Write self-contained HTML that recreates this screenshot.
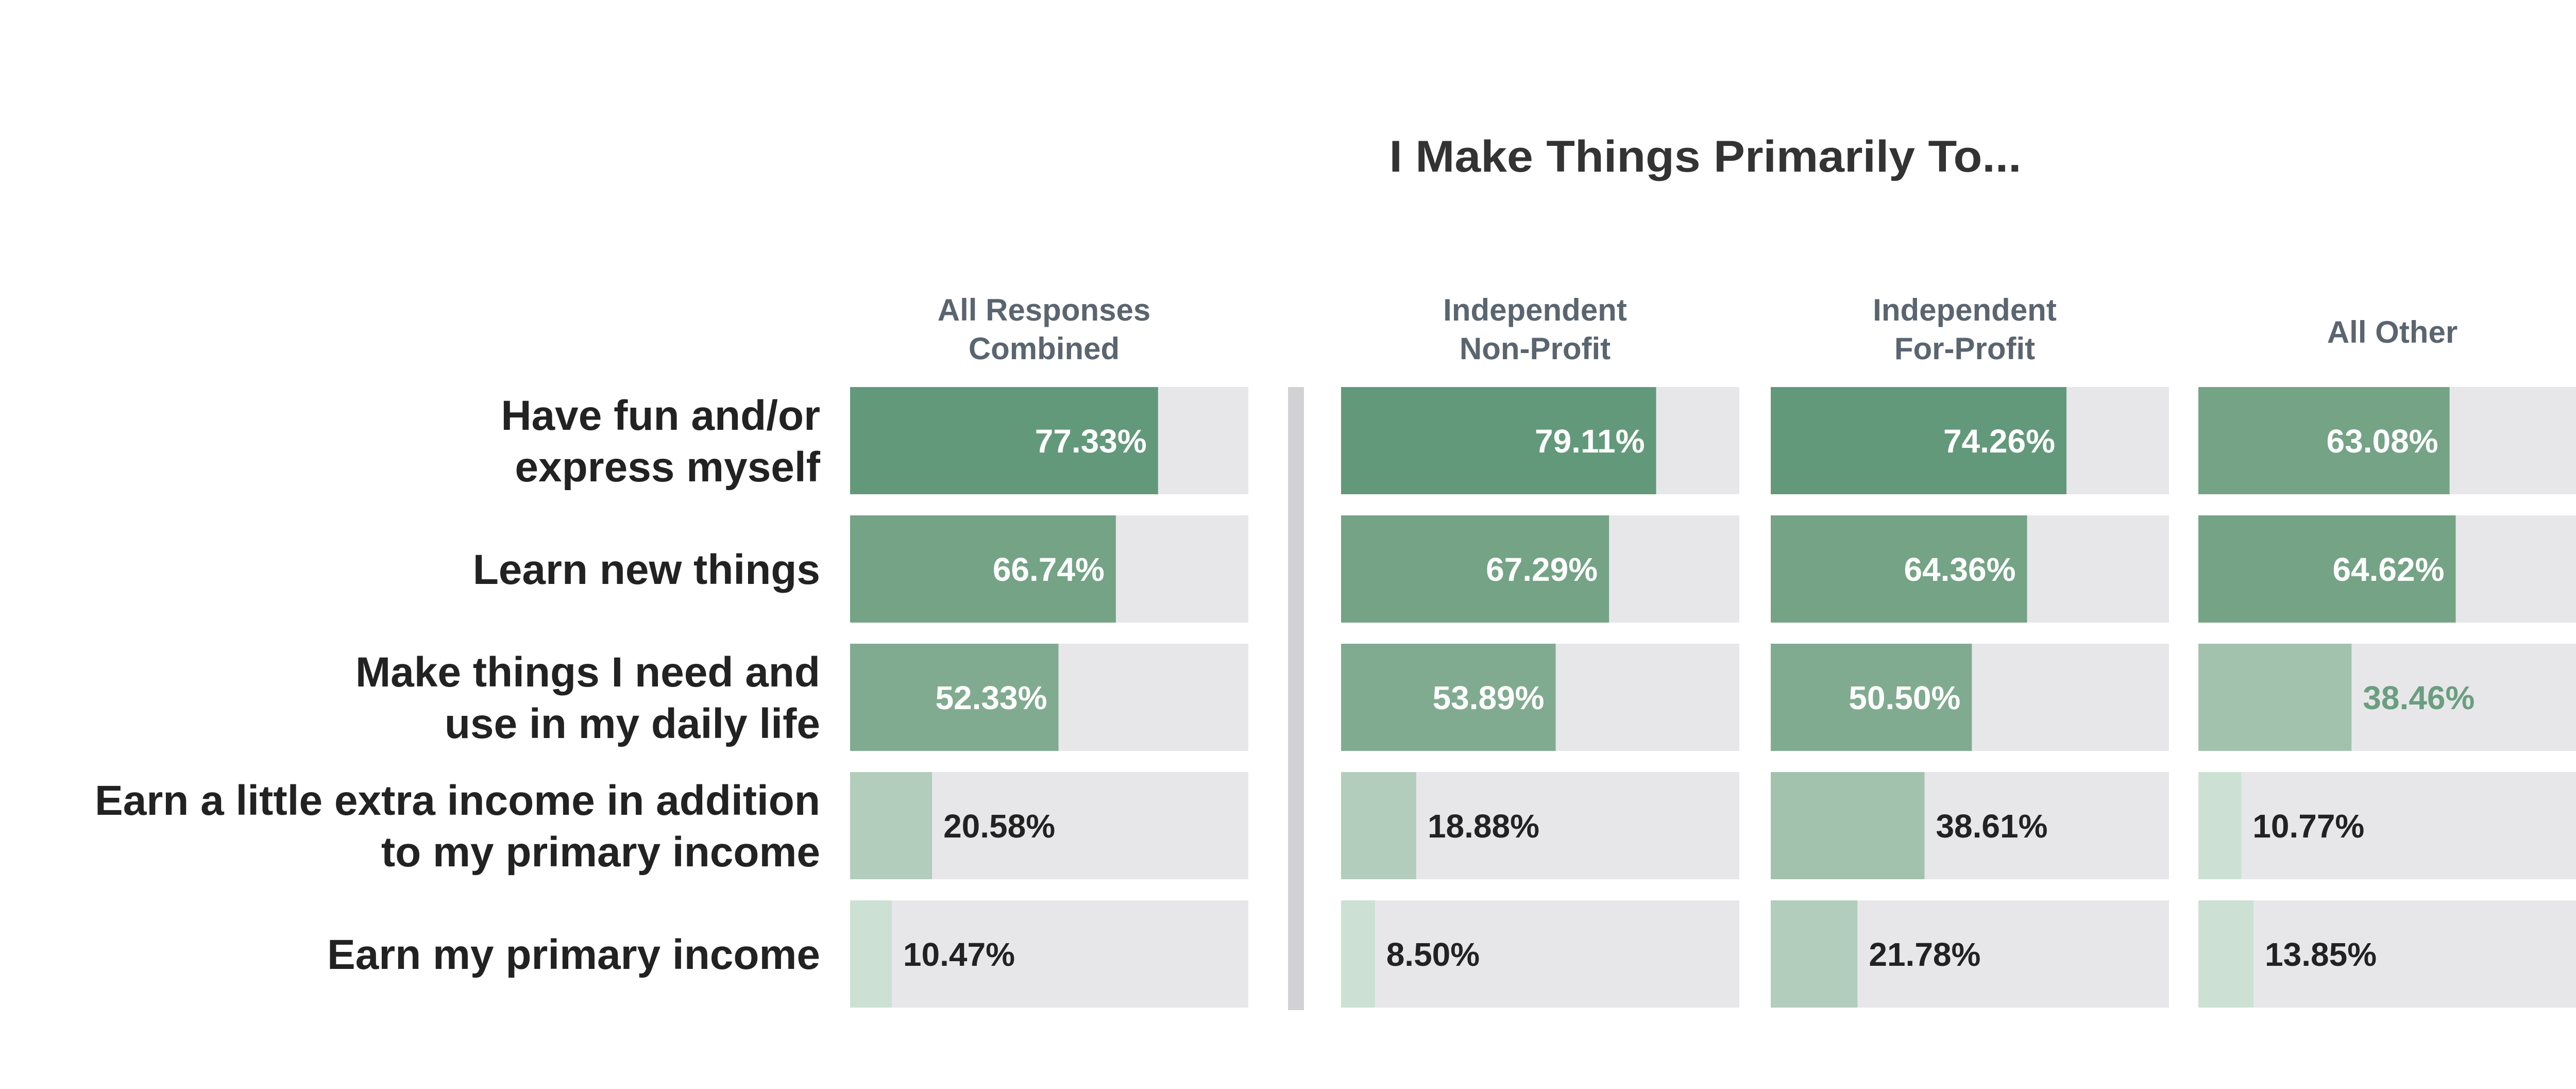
<!DOCTYPE html>
<html><head><meta charset="utf-8"><style>
html,body{margin:0;padding:0;background:#fff;}
svg{display:block;font-family:"Liberation Sans",sans-serif;}
</style></head><body>
<svg id="chart" width="5315" height="2113" viewBox="0 0 5315 2113" xmlns="http://www.w3.org/2000/svg">
<text x="3310" y="333" text-anchor="middle" font-size="86" font-weight="bold" fill="#333" textLength="1227" lengthAdjust="spacingAndGlyphs">I Make Things Primarily To...</text>
<rect x="2500" y="751" width="31" height="1209" fill="#d2d2d4"/>
<g id="g"></g>
</svg>
<script>
const categories = ["Have fun and/or express myself","Learn new things","Make things I need and use in my daily life","Earn a little extra income in addition to my primary income","Earn my primary income"];
const groups = ["All Responses Combined","Independent Non-Profit","Independent For-Profit","All Other"];
const allResponses = [77.33, 66.74, 52.33, 20.58, 10.47];
const nonProfit = [79.11, 67.29, 53.89, 18.88, 8.50];
const forProfit = [74.26, 64.36, 50.50, 38.61, 21.78];
const allOther = [63.08, 64.62, 38.46, 10.77, 13.85];
const series = [allResponses, nonProfit, forProfit, allOther];

const NS = "http://www.w3.org/2000/svg";
const g = document.getElementById('g');
const colX = [1650, 2603, 3437, 4267];
const trackW = 773, rowTop = 751, rowPitch = 249, barH = 208;
const xScale = v => v / 100 * trackW;
const yRow = i => rowTop + i * rowPitch;
function color(v){
  if (v >= 70) return "#62997a";
  if (v >= 60) return "#74a386";
  if (v >= 45) return "#80ab90";
  if (v >= 30) return "#a3c2ae";
  if (v >= 15) return "#b2cdbc";
  return "#cde0d4";
}
function mk(tag, attrs, txt){
  const e = document.createElementNS(NS, tag);
  for (const k in attrs) e.setAttribute(k, attrs[k]);
  if (txt !== undefined) e.textContent = txt;
  g.appendChild(e);
  return e;
}
const labelLines = [["Have fun and/or","express myself"],["Learn new things"],["Make things I need and","use in my daily life"],["Earn a little extra income in addition","to my primary income"],["Earn my primary income"]];
labelLines.forEach((lines, i) => {
  const cy = yRow(i) + barH / 2;
  lines.forEach((l, j) => {
    const y = cy + 29 + (j - (lines.length - 1) / 2) * 100;
    const t = mk('text', {x: 1592, y: y, 'text-anchor': 'end', 'font-size': 82, 'font-weight': 'bold', fill: '#222'}, l);
    
    
  });
});
const headerLines = [["All Responses","Combined"],["Independent","Non-Profit"],["Independent","For-Profit"],["All Other"]];
headerLines.forEach((lines, c) => {
  const cx = colX[c] + trackW / 2 - 10;
  lines.forEach((l, j) => {
    const y = lines.length === 1 ? 665 : 622 + j * 75;
    const t = mk('text', {x: cx, y: y, 'text-anchor': 'middle', 'font-size': 60, 'font-weight': 'bold', fill: '#5a6570'}, l);
    
    
  });
});
series.forEach((vals, c) => {
  vals.forEach((v, i) => {
    const y = yRow(i);
    const tr = mk('rect', {x: colX[c], y: y, width: trackW, height: barH, fill: '#e7e7e9'});
    
    
    const w = xScale(v);
    const b = mk('rect', {x: colX[c], y: y, width: w, height: barH, fill: color(v)});
    
    
    const inside = v >= 45;
    const txt = v.toFixed(2) + '%';
    const t = mk('text', {
      x: inside ? colX[c] + w - 22 : colX[c] + w + 22,
      y: y + barH / 2 + 23,
      'text-anchor': inside ? 'end' : 'start',
      'font-size': 64, 'font-weight': 'bold',
      fill: inside ? '#fff' : (v >= 30 && c === 3 ? '#6a9e7f' : '#222')
    }, txt);
    
    
  });
});
</script>
</body></html>
